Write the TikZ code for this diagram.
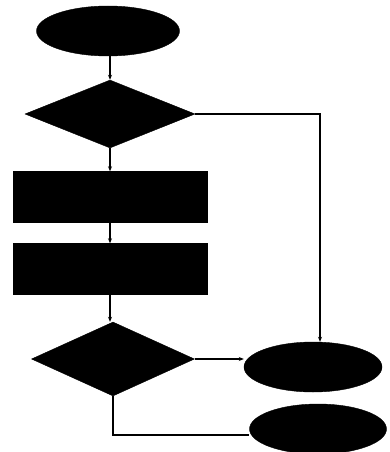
\documentclass[tikz,border=0pt]{standalone}
\usetikzlibrary{shapes.geometric,arrows.meta}
\begin{document}
\begin{tikzpicture}[x=1pt,y=-1pt,
  blk/.style={fill=black,draw=black,inner sep=0pt},
  term/.style={blk,ellipse,minimum width=#1,minimum height=50},
  proc/.style={blk,rectangle,minimum width=194,minimum height=51},
  conn/.style={line width=1.1pt,-{Stealth[length=5pt,width=4pt]}},
  plain/.style={line width=1.1pt}]
\useasboundingbox (0,0) rectangle (390,452);
\node[term=143] (start) at (108,31) {};
\node[blk,diamond,minimum width=170,minimum height=68] (d1) at (110,114) {};
\node[proc] (p1) at (110,197) {};
\node[proc] (p2) at (110,269) {};
\node[blk,diamond,minimum width=163,minimum height=74] (d2) at (113,359) {};
\node[term=138] (e1) at (313,367) {};
\node[term=137] (e2) at (318,429) {};
\coordinate (c1) at (320,114);
\coordinate (c2) at (113,435);
\draw[conn] (d1.north |- start.south) -- (d1.north);
\draw[conn] (d1.south) -- (p1.north);
\draw[conn] (p1.south) -- (p2.north);
\draw[conn] (p2.south) -- (p2.south |- d2.north);
\draw[conn] (d1.east) -- (c1) -- (e1.north -| c1);
\draw[conn] (d2.east) -- (d2.east -| e1.west);
\draw[plain] (d2.south) -- (c2) -- (e2.west |- c2);
\end{tikzpicture}
\end{document}
